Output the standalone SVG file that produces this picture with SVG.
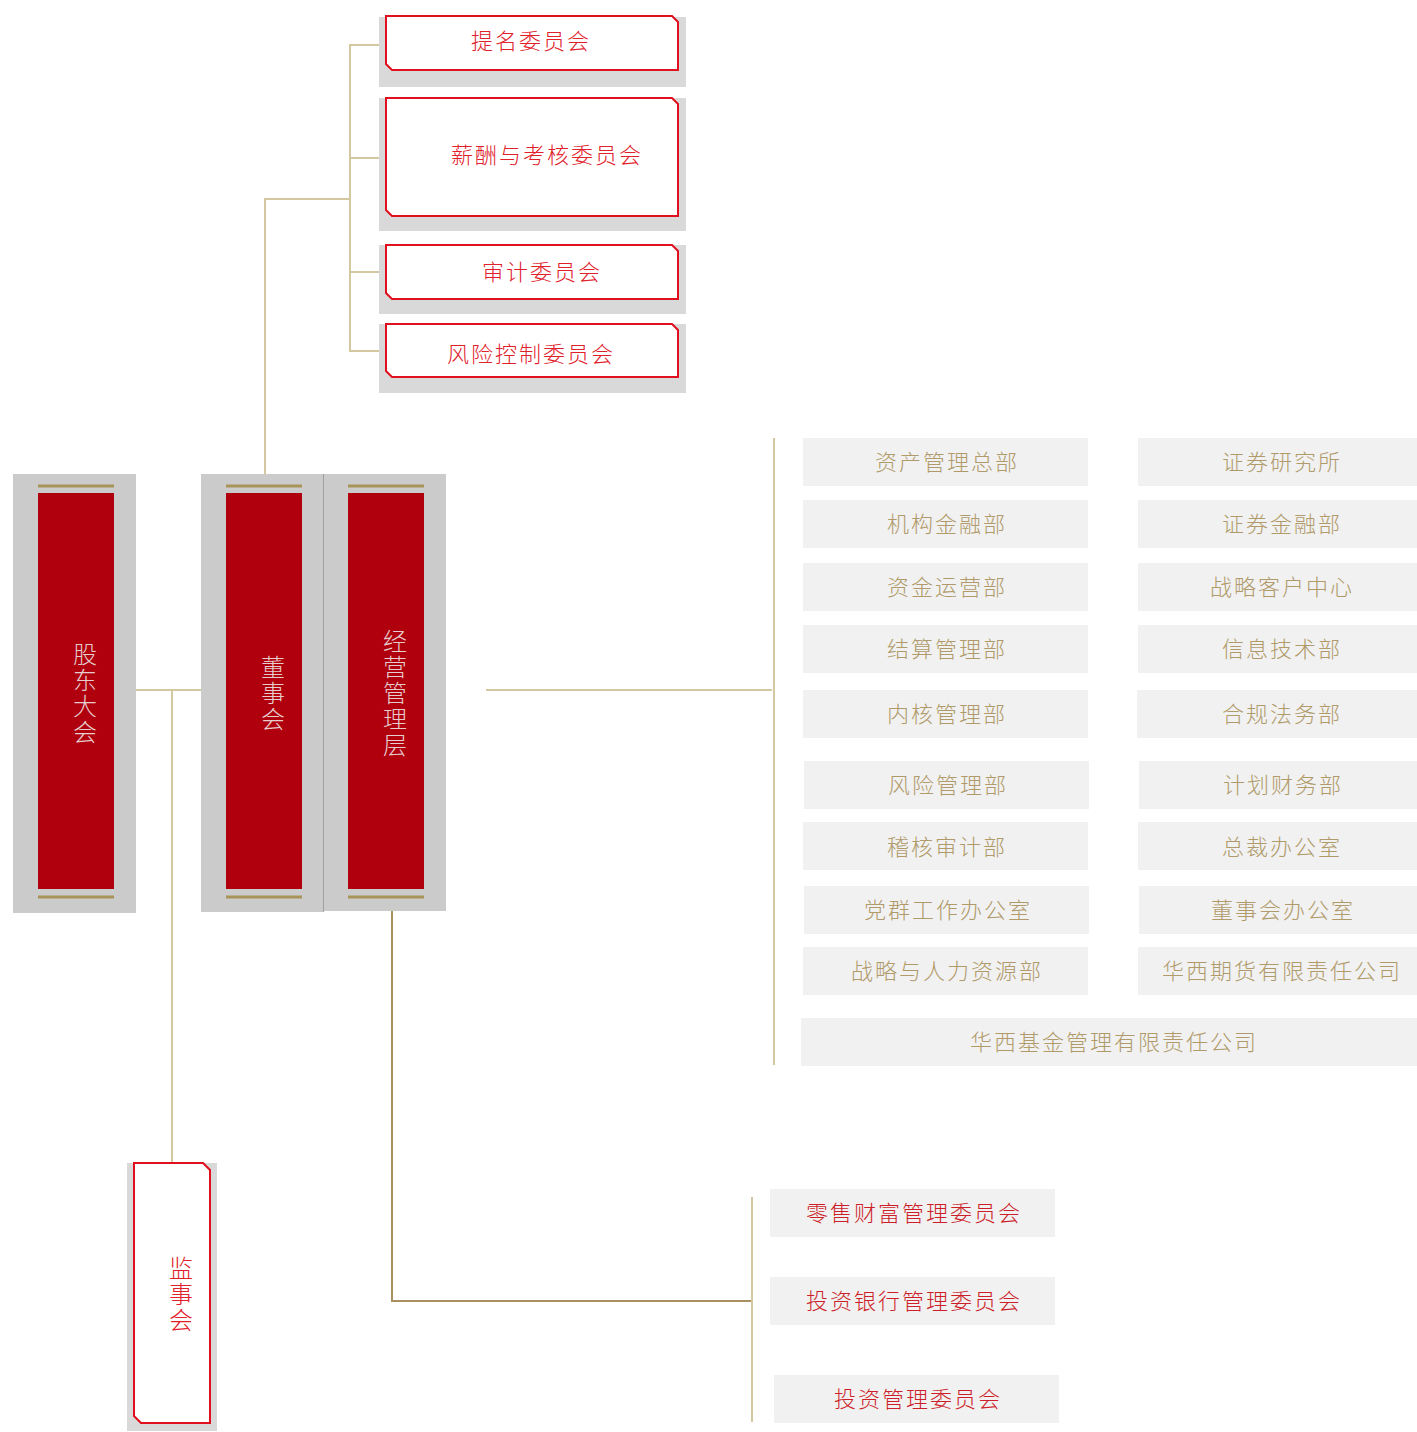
<svg xmlns="http://www.w3.org/2000/svg" width="1417" height="1432" viewBox="0 0 1417 1432">
<style>
text{font-family:"Noto Sans CJK SC","Noto Sans",sans-serif;font-weight:300;}
.cg{fill:#d9d9d9}
.cb{fill:#fff;stroke:#e0101e;stroke-width:2}
.ct{fill:#e0202a;font-size:22px;letter-spacing:2px;text-anchor:middle}
.vt{writing-mode:vertical-rl;text-anchor:middle;letter-spacing:2px;font-size:24px}
.mg{fill:#cbcbcb}
.mr{fill:#b0000e}
.gold{stroke:#a89458;stroke-width:3}
.mt{fill:#e6cccc}
.jt{fill:#e0202a}
.db{fill:#f1f1f1}
.dt{fill:#b09a6a;font-size:22px;letter-spacing:2px;text-anchor:middle}
.bt{fill:#cc1f2a;font-size:22px;letter-spacing:2px;text-anchor:middle}
.ln{fill:none;stroke:#d4c8a0;stroke-width:2}
.ln2{fill:none;stroke:#a89060;stroke-width:2}
</style>
<g id="connectors">
<polyline class="ln" points="386,45 350,45 350,351 386,351"/>
<line class="ln" x1="350" y1="158" x2="386" y2="158"/>
<line class="ln" x1="350" y1="272" x2="386" y2="272"/>
<polyline class="ln" points="350,199 265,199 265,474"/>
<line class="ln" x1="114" y1="690" x2="226" y2="690"/>
<line class="ln" x1="172" y1="690" x2="172" y2="1163"/>
<line class="ln" x1="340" y1="690" x2="348" y2="690"/>
<line class="ln" x1="486" y1="690" x2="772" y2="690"/>
<line class="ln" x1="774" y1="438" x2="774" y2="1065"/>
<polyline class="ln2" points="392,889 392,1301 752,1301"/>
<line class="ln" x1="752" y1="1197" x2="752" y2="1422"/>
</g>
<g id="c1"><rect class="cg" x="379" y="17" width="307" height="70"/><path class="cb" d="M386,16 H672 L678,22 V70 H392 L386,64 Z"/><text class="ct" x="531" y="49">提名委员会</text></g>
<g id="c2"><rect class="cg" x="379" y="98" width="307" height="133"/><path class="cb" d="M386,98 H672 L678,104 V216 H392 L386,210 Z"/><text class="ct" x="547" y="163">薪酬与考核委员会</text></g>
<g id="c3"><rect class="cg" x="379" y="245" width="307" height="69"/><path class="cb" d="M386,245 H672 L678,251 V299 H392 L386,293 Z"/><text class="ct" x="542" y="280">审计委员会</text></g>
<g id="c4"><rect class="cg" x="379" y="324" width="307" height="69"/><path class="cb" d="M386,324 H672 L678,330 V377 H392 L386,371 Z"/><text class="ct" x="531" y="362">风险控制委员会</text></g>
<g id="gudong"><rect class="mg" x="13" y="474" width="123" height="439"/><rect class="mr" x="38" y="493" width="76" height="396"/><line class="gold" x1="38" y1="486" x2="114" y2="486"/><line class="gold" x1="38" y1="897" x2="114" y2="897"/>
<text class="vt mt" x="85" y="694">股东大会</text></g>
<g id="dongshi"><rect class="mg" x="201" y="474" width="122" height="438"/><rect class="mr" x="226" y="493" width="76" height="396"/><line class="gold" x1="226" y1="486" x2="302" y2="486"/><line class="gold" x1="226" y1="897" x2="302" y2="897"/>
<text class="vt mt" x="273" y="694">董事会</text></g>
<g id="jingying"><rect class="mg" x="323" y="474" width="123" height="437"/><line x1="323.5" y1="474" x2="323.5" y2="912" stroke="#a0a0a0" stroke-width="1"/><rect class="mr" x="348" y="493" width="76" height="396"/><line class="gold" x1="348" y1="486" x2="424" y2="486"/><line class="gold" x1="348" y1="897" x2="424" y2="897"/>
<text class="vt mt" x="395" y="694">经营管理层</text></g>
<g id="jianshi"><rect class="cg" x="127" y="1163" width="90" height="268"/><path class="cb" d="M134,1163 H203 L210,1170 V1423 H141 L134,1416 Z"/>
<text class="vt jt" x="181" y="1295">监事会</text></g>
<g id="d1"><rect class="db" x="803" y="438" width="285" height="48"/><text class="dt" x="947" y="470">资产管理总部</text></g>
<g id="d2"><rect class="db" x="1138" y="438" width="279" height="48"/><text class="dt" x="1282" y="470">证券研究所</text></g>
<g id="d3"><rect class="db" x="803" y="500" width="285" height="48"/><text class="dt" x="947" y="532">机构金融部</text></g>
<g id="d4"><rect class="db" x="1138" y="500" width="279" height="48"/><text class="dt" x="1282" y="532">证券金融部</text></g>
<g id="d5"><rect class="db" x="803" y="563" width="285" height="48"/><text class="dt" x="947" y="595">资金运营部</text></g>
<g id="d6"><rect class="db" x="1138" y="563" width="279" height="48"/><text class="dt" x="1282" y="595">战略客户中心</text></g>
<g id="d7"><rect class="db" x="803" y="625" width="285" height="48"/><text class="dt" x="947" y="657">结算管理部</text></g>
<g id="d8"><rect class="db" x="1138" y="625" width="279" height="48"/><text class="dt" x="1282" y="657">信息技术部</text></g>
<g id="d9"><rect class="db" x="803" y="690" width="285" height="48"/><text class="dt" x="947" y="722">内核管理部</text></g>
<g id="d10"><rect class="db" x="1137" y="690" width="280" height="48"/><text class="dt" x="1282" y="722">合规法务部</text></g>
<g id="d11"><rect class="db" x="804" y="761" width="285" height="48"/><text class="dt" x="948" y="793">风险管理部</text></g>
<g id="d12"><rect class="db" x="1139" y="761" width="278" height="48"/><text class="dt" x="1283" y="793">计划财务部</text></g>
<g id="d13"><rect class="db" x="803" y="822" width="285" height="48"/><text class="dt" x="947" y="855">稽核审计部</text></g>
<g id="d14"><rect class="db" x="1138" y="822" width="279" height="48"/><text class="dt" x="1282" y="855">总裁办公室</text></g>
<g id="d15"><rect class="db" x="804" y="886" width="285" height="48"/><text class="dt" x="948" y="918">党群工作办公室</text></g>
<g id="d16"><rect class="db" x="1139" y="886" width="278" height="48"/><text class="dt" x="1283" y="918">董事会办公室</text></g>
<g id="d17"><rect class="db" x="803" y="947" width="285" height="48"/><text class="dt" x="947" y="979">战略与人力资源部</text></g>
<g id="d18"><rect class="db" x="1138" y="947" width="279" height="48"/><text class="dt" x="1282" y="979">华西期货有限责任公司</text></g>
<g id="d19"><rect class="db" x="801" y="1018" width="616" height="48"/><text class="dt" x="1114" y="1050">华西基金管理有限责任公司</text></g>
<g id="b1"><rect class="db" x="770" y="1189" width="285" height="48"/><text class="bt" x="914" y="1221">零售财富管理委员会</text></g>
<g id="b2"><rect class="db" x="770" y="1277" width="285" height="48"/><text class="bt" x="914" y="1309">投资银行管理委员会</text></g>
<g id="b3"><rect class="db" x="774" y="1375" width="285" height="48"/><text class="bt" x="918" y="1407">投资管理委员会</text></g>
</svg>
